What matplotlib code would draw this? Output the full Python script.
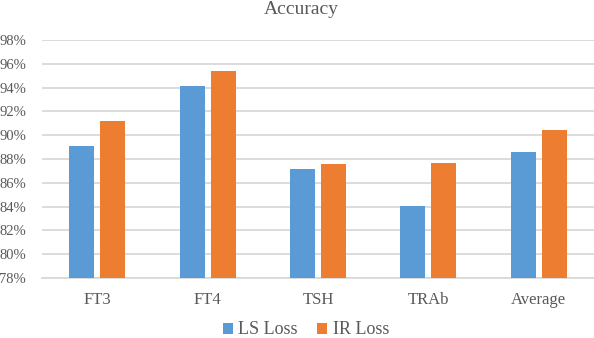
import numpy as np
import matplotlib.pyplot as plt
from matplotlib.ticker import PercentFormatter

categories = ['FT3', 'FT4', 'TSH', 'TRAb', 'Average']
ls_loss = [89.1, 94.1, 87.2, 84.05, 88.6]
ir_loss = [91.2, 95.4, 87.6, 87.7, 90.4]
yticks = [78, 80, 82, 84, 86, 88, 90, 92, 94, 96, 98]

plt.rcParams['font.family'] = ['Liberation Serif', 'DejaVu Serif']
text_color = '#595959'
grid_color = '#d9d9d9'

fig = plt.figure(figsize=(5.94, 3.38), dpi=100)
ax = fig.add_axes([42 / 594, 1 - 278 / 338, 1 - 42 / 594, 238 / 338])

x = np.arange(len(categories))
w = 0.226
off = 0.14
ax.bar(x - off, ls_loss, width=w, color='#5b9bd5', label='LS Loss', zorder=3)
ax.bar(x + off, ir_loss, width=w, color='#ed7d31', label='IR Loss', zorder=3)

ax.set_xlim(-0.5, len(categories) - 0.5)
ax.set_ylim(78, 98)
ax.set_yticks(yticks)
ax.yaxis.set_major_formatter(PercentFormatter(decimals=0))
ax.set_xticks(x)
ax.set_xticklabels(categories)
ax.grid(axis='y', color=grid_color, linewidth=1.3, zorder=0)

for s in ['top', 'right', 'left']:
    ax.spines[s].set_visible(False)
ax.spines['bottom'].set_color(grid_color)
ax.spines['bottom'].set_linewidth(1.3)
ax.tick_params(axis='both', length=0, colors=text_color)
ax.tick_params(axis='y', pad=11.5, labelsize=10.5)
ax.tick_params(axis='x', pad=10, labelsize=12)

fig.text(301 / 594, 1 - 10 / 338, 'Accuracy', ha='center', va='center', fontsize=14, color=text_color)

leg = fig.legend(loc='center', bbox_to_anchor=(306 / 594, 1 - 330 / 338), ncol=2, frameon=False,
                 fontsize=13, handlelength=0.55, handleheight=0.55, handletextpad=0.3,
                 columnspacing=1.1, borderpad=0)
for t in leg.get_texts():
    t.set_color(text_color)

fig.savefig('out.png', dpi=100)
